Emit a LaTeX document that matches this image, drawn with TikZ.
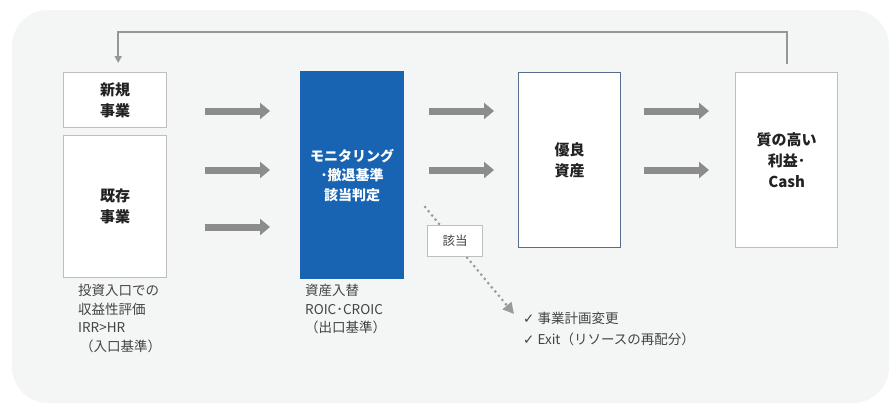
\documentclass[tikz,border=0pt]{standalone}
\usepackage{fontspec}
\setmainfont{Noto Sans CJK JP}
\newfontfamily\symfont{DejaVu Sans}
\usetikzlibrary{arrows.meta,calc}
\definecolor{bgcol}{RGB}{244,245,245}
\definecolor{boxline}{RGB}{190,190,190}
\definecolor{navyline}{RGB}{88,108,146}
\definecolor{mainblue}{RGB}{24,100,178}
\definecolor{arrowgray}{RGB}{140,140,140}
\definecolor{txt}{RGB}{34,34,34}

\begin{document}
\begin{tikzpicture}[x=1pt,y=-1pt,
  wbox/.style = {draw=boxline, line width=1.4pt, fill=white, anchor=north west,
    minimum width=103pt, align=center, text=txt,
    font=\fontsize{15}{21}\selectfont\bfseries},
  bigarrow/.style = {arrowgray, line width=7pt, -{Triangle[length=10pt,width=16pt]}},
  caption/.style = {anchor=north west, align=left, inner sep=0pt, text=txt!85,
    font=\fontsize{13.5}{18.5}\selectfont}]
\useasboundingbox (0,0) rectangle (891,405);
\fill[bgcol, rounded corners=36pt] (12,10) rectangle (889,403);

\node[wbox, minimum height=55pt] (new) at (63,72) {新規\\事業};
\node[wbox, minimum height=142pt] (old) at (63,135) {既存\\事業};
\node[wbox, draw=mainblue, fill=mainblue, text=white, minimum height=207pt,
  font=\fontsize{14}{19.5}\selectfont\bfseries] (judge) at (300,71) {モニタリング\\･撤退基準\\該当判定};
\node[wbox, draw=navyline, minimum width=102pt, minimum height=175pt] (good) at (518,72) {優良\\資産};
\node[wbox, minimum width=102pt, minimum height=175pt] (cash) at (735,72) {質の高い\\利益･\\Cash};

\foreach \y [count=\i] in {111,170,227} {
  \coordinate (a\i) at (205,\y);
  \coordinate (b\i) at (270,\y);
  \draw[bigarrow] (a\i) -- (b\i);
}
\foreach \y [count=\i] in {111,170} {
  \coordinate (c\i) at (429,\y);
  \coordinate (d\i) at (494,\y);
  \draw[bigarrow] (c\i) -- (d\i);
  \coordinate (e\i) at (644,\y);
  \coordinate (f\i) at (709,\y);
  \draw[bigarrow] (e\i) -- (f\i);
}

\draw[arrowgray!90, line width=1.6pt, -{Triangle[length=7pt,width=7pt]}]
  ([yshift=8pt]cash.north) -- ++(0,-32) -| ([xshift=3pt,yshift=9pt]new.north);

\coordinate (dot0) at (425,207);
\coordinate (dot1) at (514,314);
\draw[arrowgray!110!black, line width=3pt, line cap=round, dash pattern=on 0pt off 5.5pt,
  -{Triangle[length=11pt,width=11pt]}] (dot0) -- (dot1);
\node[draw=boxline, line width=1.2pt, fill=white, anchor=north west, minimum width=55pt,
  minimum height=31pt, text=txt!85, font=\fontsize{12.5}{15}\selectfont] (hit) at (427,225) {該当};

\node[caption] (incap) at (78,284) {投資入口での\\収益性評価\\IRR>HR\\\hspace*{2pt}（入口基準）};
\node[caption] (outcap) at (305,284) {資産入替\\ROIC･CROIC\\（出口基準）};
\node[caption, font=\fontsize{13.5}{21}\selectfont] (todo) at (523,312)
  {{\symfont\bfseries ✓} 事業計画変更\\{\symfont\bfseries ✓} Exit（リソースの再配分）};
\end{tikzpicture}
\end{document}
